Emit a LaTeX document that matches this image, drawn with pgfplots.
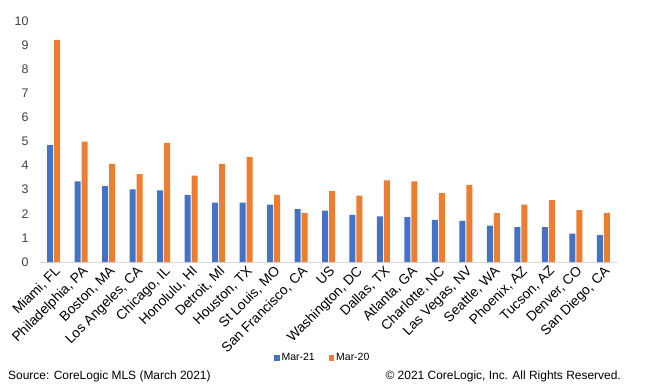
\documentclass[border=0pt]{standalone}
\usepackage{pgfplots}
\pgfplotsset{compat=1.18}
\usepackage{fontspec}
\setmainfont{Liberation Sans}
\definecolor{cblue}{HTML}{4472C4}
\definecolor{corange}{HTML}{ED7D31}
\definecolor{axgrey}{HTML}{D9D9D9}
\definecolor{ticktext}{HTML}{404040}
\begin{document}
\begin{tikzpicture}
\useasboundingbox (-40bp,-129bp) rectangle (610bp,262bp);
\begin{axis}[
  scale only axis,
  width=577bp, height=241bp,
  xmin=-0.5, xmax=20.5,
  ymin=0, ymax=10,
  ytick={0,1,...,10},
  xtick={0,...,20},
  xticklabels={{Miami, FL},{Philadelphia, PA},{Boston, MA},{Los Angeles, CA},{Chicago, IL},{Honolulu, HI},{Detroit, MI},{Houston, TX},{St Louis, MO},{San Francisco, CA},{US},{Washington, DC},{Dallas, TX},{Atlanta, GA},{Charlotte, NC},{Las Vegas, NV},{Seattle, WA},{Phoenix, AZ},{Tucson, AZ},{Denver, CO},{San Diego, CA}},
  xticklabel style={rotate=45, anchor=north east, inner sep=1pt, xshift=-1bp, yshift=-1bp, font=\fontsize{13.8}{15}\selectfont},
  yticklabel style={font=\fontsize{12.5}{14}\selectfont, text=ticktext, xshift=-8bp},
  /pgf/number format/assume math mode=true,
  major tick length=0pt,
  axis x line*=bottom,
  axis y line*=left,
  y axis line style={draw=none},
  x axis line style={draw=axgrey, line width=1bp, -},
  ybar=1bp, bar width=6bp,
  legend style={at={(0.49,-0.398)}, anchor=center, draw=none, legend columns=2,
    font=\fontsize{10.5}{12}\selectfont,
    /tikz/every even column/.append style={column sep=12bp}},
  legend image code/.code={\fill[#1] (0bp,-2.8bp) rectangle (5.5bp,2.8bp);},
]
\addplot[fill=cblue, draw=none] coordinates {
(0,4.85) (1,3.35) (2,3.15) (3,3.01) (4,2.97) (5,2.79) (6,2.46) (7,2.46) (8,2.38) (9,2.19) (10,2.13) (11,1.96) (12,1.89) (13,1.86) (14,1.75) (15,1.71) (16,1.51) (17,1.45) (18,1.45) (19,1.18) (20,1.11)};
\addplot[fill=corange, draw=none] coordinates {
(0,9.22) (1,4.99) (2,4.07) (3,3.65) (4,4.94) (5,3.58) (6,4.07) (7,4.36) (8,2.79) (9,2.04) (10,2.94) (11,2.75) (12,3.39) (13,3.35) (14,2.86) (15,3.20) (16,2.04) (17,2.38) (18,2.57) (19,2.15) (20,2.04)};
\legend{Mar-21, Mar-20}
\end{axis}
\node[anchor=west, font=\fontsize{12}{14}\selectfont, inner sep=0pt] at (-32bp,-114bp) {Source: CoreLogic MLS (March 2021)};
\node[anchor=east, font=\fontsize{12}{14}\selectfont, inner sep=0pt] at (581bp,-114bp) {© 2021 CoreLogic, Inc. All Rights Reserved.};
\end{tikzpicture}
\end{document}
